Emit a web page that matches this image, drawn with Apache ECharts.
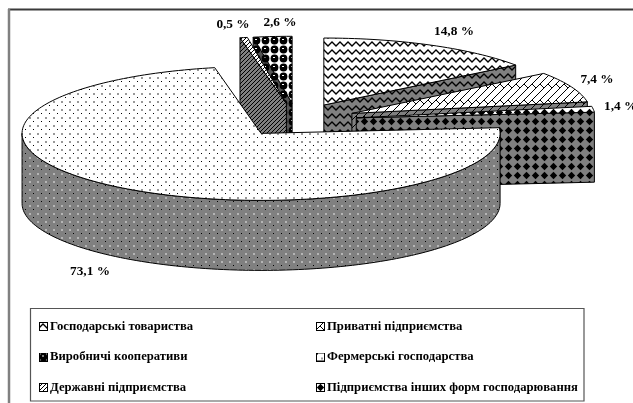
<!DOCTYPE html>
<html>
<head>
<meta charset="utf-8">
<style>
  html, body { margin: 0; padding: 0; background: #fff; }
  #chart { width: 633px; height: 403px; }
</style>
<script src="https://cdn.jsdelivr.net/npm/echarts@6/dist/echarts.min.js"></script>
</head>
<body>
<div id="chart"></div>
<script>
// clockwise from 12 o'clock, same order as the slices in the picture
const sliceNames = [
  "Господарські товариства",
  "Приватні підприємства",
  "Підприємства інших форм господарювання",
  "Фермерські господарства",
  "Державні підприємства",
  "Виробничі кооперативи",
];
const sliceShares = [14.8, 7.4, 1.4, 73.1, 0.5, 2.6];
const legendLeft = ["Господарські товариства", "Виробничі кооперативи", "Державні підприємства"];
const legendRight = ["Приватні підприємства", "Фермерські господарства", "Підприємства інших форм господарювання"];

// back slices first, the big one has to cover the rest
const drawOrder = [0, 1, 2, 5, 4, 3];
const tiles = ["wave", "lattice", "diamond", "dots", "hatch", "balls"];
const labelSpots = [
  { x: 454, y: 32, align: "center" },
  { x: 597, y: 80, align: "center" },
  { x: 604, y: 107, align: "left" },
  { x: 90, y: 272, align: "center" },
  { x: 233, y: 25, align: "center" },
  { x: 280, y: 23, align: "center" },
];

const pie = { cx: 297, cy: 120, rx: 239, ry: 67, depth: 70, explode: 0.25 };
const WALL = "#808080";
const TOP = "#ffffff";

function paintTile(kind, g, bg) {
  const wall = bg !== TOP;
  g.lineWidth = 1;
  g.strokeStyle = "#000";
  g.fillStyle = "#000";
  if (kind === "dots") {
    g.fillRect(1, 1, 1, 1);
    g.fillStyle = wall ? "#b5b5b5" : "#999";
    g.fillRect(5, 5, 2, 2);
  } else if (kind === "wave") {
    g.lineWidth = 1.3;
    g.beginPath();
    g.moveTo(-4, 2);
    g.lineTo(0, 6);
    g.lineTo(4, 2);
    g.lineTo(8, 6);
    g.lineTo(12, 2);
    g.stroke();
  } else if (kind === "lattice") {
    g.beginPath();
    [[0, 8, 8, 0], [0, 16, 16, 0], [8, 16, 16, 8], [4, 4, 8, 8], [12, 4, 16, 8]].forEach((s) => {
      g.moveTo(s[0], s[1]);
      g.lineTo(s[2], s[3]);
    });
    g.stroke();
  } else if (kind === "diamond") {
    g.beginPath();
    g.moveTo(4.5, 0.8);
    g.lineTo(8.2, 4.5);
    g.lineTo(4.5, 8.2);
    g.lineTo(0.8, 4.5);
    g.closePath();
    g.fill();
  } else if (kind === "balls") {
    g.beginPath();
    g.arc(4.5, 4.5, 3.9, 0, Math.PI * 2);
    g.fill();
    g.fillStyle = "#fff";
    g.fillRect(3, 3, 2, 1);
  } else if (kind === "hatch") {
    g.beginPath();
    [[-1, 1, 1, -1], [0, 4, 4, 0], [3, 5, 5, 3]].forEach((s) => {
      g.moveTo(s[0], s[1]);
      g.lineTo(s[2], s[3]);
    });
    g.stroke();
  }
}

const tileSize = { dots: 8, wave: 8, lattice: 16, diamond: 9, balls: 9, hatch: 4 };

function makeTile(kind, bg) {
  const c = document.createElement("canvas");
  c.width = c.height = tileSize[kind];
  const g = c.getContext("2d");
  g.fillStyle = bg;
  g.fillRect(0, 0, c.width, c.height);
  paintTile(kind, g, bg);
  return c;
}

function makeSwatch(kind) {
  const c = document.createElement("canvas");
  c.width = c.height = 9;
  const g = c.getContext("2d");
  g.fillStyle = g.createPattern(makeTile(kind, TOP), "repeat");
  g.fillRect(0, 0, 9, 9);
  g.strokeStyle = "#000";
  g.strokeRect(0.5, 0.5, 8, 8);
  return "image://" + c.toDataURL();
}

const total = sliceShares.reduce((a, b) => a + b, 0);
const rad = (d) => (d * Math.PI) / 180;

function sliceAngles(i) {
  let s = 0;
  for (let k = 0; k < i; k++) s += sliceShares[k];
  return [(s / total) * 360, ((s + sliceShares[i]) / total) * 360];
}

function rim(apex, deg, drop) {
  return [apex[0] + pie.rx * Math.sin(rad(deg)), apex[1] - pie.ry * Math.cos(rad(deg)) + (drop || 0)];
}

function arcPoints(apex, from, to, drop) {
  const pts = [];
  const n = Math.max(2, Math.ceil((to - from) / 1.5));
  for (let k = 0; k <= n; k++) pts.push(rim(apex, from + ((to - from) * k) / n, drop));
  return pts;
}

function poly(points, fill) {
  return {
    type: "polygon",
    shape: { points: points },
    style: { fill: fill, stroke: "#000", lineWidth: 1, lineJoin: "round" },
  };
}

function renderSlice(i) {
  const [s, e] = sliceAngles(i);
  const m = (s + e) / 2;
  const apex = [
    pie.cx + pie.explode * pie.rx * Math.sin(rad(m)),
    pie.cy - pie.explode * pie.ry * Math.cos(rad(m)),
  ];
  const topFill = { image: makeTile(tiles[i], TOP), repeat: "repeat" };
  const wallFill = { image: makeTile(tiles[i], tiles[i] === "balls" ? "#555" : WALL), repeat: "repeat" };
  const under = [apex[0], apex[1] + pie.depth];
  const children = [];

  if (Math.sin(rad(s)) < 0) {
    children.push(poly([apex, rim(apex, s), rim(apex, s, pie.depth), under], wallFill));
  }
  if (Math.sin(rad(e)) > 0) {
    children.push(poly([apex, rim(apex, e), rim(apex, e, pie.depth), under], wallFill));
  }
  const a = Math.max(s, 90);
  const b = Math.min(e, 270);
  if (b > a) {
    children.push(poly(arcPoints(apex, a, b).concat(arcPoints(apex, a, b, pie.depth).reverse()), wallFill));
  }
  children.push(poly([apex].concat(arcPoints(apex, s, e)), topFill));

  const spot = labelSpots[i];
  children.push({
    type: "text",
    z2: 10,
    style: {
      text: String(sliceShares[i]).replace(".", ",") + " %",
      x: spot.x,
      y: spot.y,
      fill: "#000",
      font: "bold 13.3px 'Liberation Serif'",
      align: spot.align,
      verticalAlign: "middle",
    },
  });
  return { type: "group", children: children };
}

function legendFor(names, left) {
  return {
    left: left,
    top: 320,
    padding: 0,
    orient: "vertical",
    selectedMode: false,
    itemWidth: 9,
    itemHeight: 9,
    itemGap: 17.5,
    data: names.map((n) => ({ name: n, icon: makeSwatch(tiles[sliceNames.indexOf(n)]) })),
    textStyle: {
      fontFamily: "Liberation Serif",
      fontWeight: "bold",
      fontSize: 12.7,
      color: "#000",
      padding: [0, 0, 0, -3],
    },
  };
}

const chart = echarts.init(document.getElementById("chart"));
chart.setOption({
  animation: false,
  backgroundColor: "#fff",
  legend: [legendFor(legendLeft, 39), legendFor(legendRight, 316)],
  graphic: [
    { type: "line", shape: { x1: 8, y1: 9.5, x2: 633, y2: 9.5 }, style: { stroke: "#3a3a3a", lineWidth: 2 } },
    { type: "line", shape: { x1: 9, y1: 9, x2: 9, y2: 403 }, style: { stroke: "#808080", lineWidth: 2.5 } },
    { type: "rect", shape: { x: 30.5, y: 308.5, width: 553.5, height: 92.5 }, style: { fill: "none", stroke: "#555", lineWidth: 1.2 } },
  ],
  series: drawOrder.map((i) => ({
    type: "custom",
    name: sliceNames[i],
    coordinateSystem: "none",
    silent: true,
    data: [sliceShares[i]],
    renderItem: () => renderSlice(i),
  })),
});
</script>
</body>
</html>
